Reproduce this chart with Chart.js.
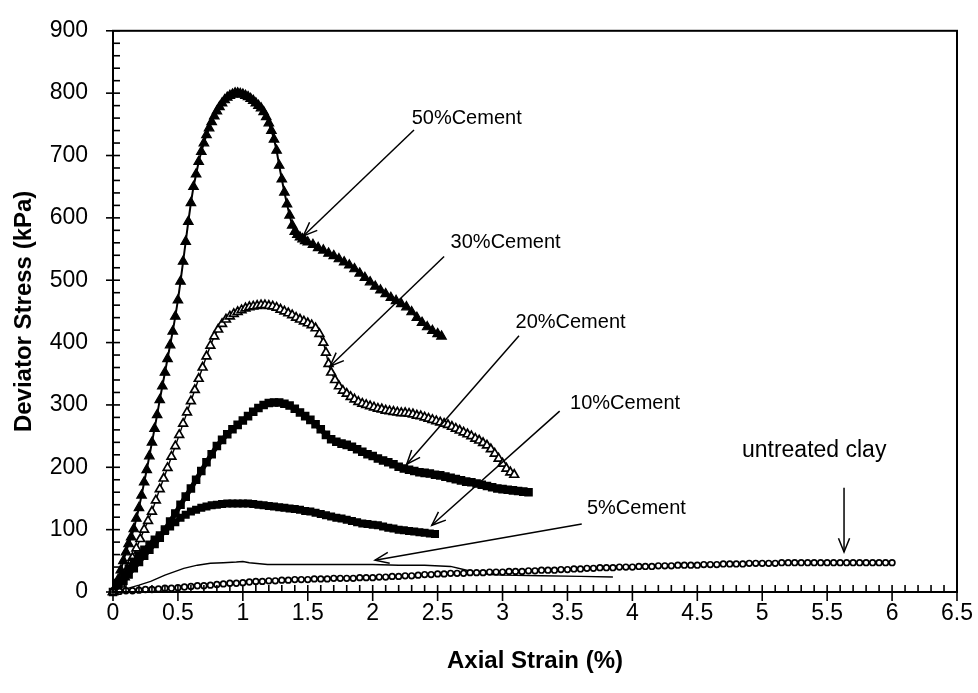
<!DOCTYPE html>
<html><head><meta charset="utf-8">
<script src="https://cdn.jsdelivr.net/npm/chart.js@4/dist/chart.umd.min.js"></script>
<style>html,body{margin:0;padding:0;background:#fff}</style>
</head><body>
<canvas id="c" width="978" height="693"></canvas>
<script>
// ---- DATA: [axial strain (%), deviator stress (kPa)] ----
const cement50 = [[0,0],[0.02,8],[0.04,20],[0.06,35],[0.08,50],[0.10,64],[0.12,77],[0.14,88],[0.16,101],[0.18,118],[0.20,135],[0.22,155],[0.24,176],[0.26,196],[0.28,218],[0.30,240],[0.32,262],[0.34,284],[0.36,308],[0.38,330],[0.40,352],[0.42,374],[0.44,396],[0.46,418],[0.48,442],[0.50,468],[0.52,498],[0.54,530],[0.56,562],[0.58,594],[0.60,624],[0.62,650],[0.64,670],[0.66,690],[0.68,706],[0.70,720],[0.72,733],[0.74,744],[0.76,754],[0.78,763],[0.80,771],[0.82,778],[0.84,784],[0.86,789],[0.88,793],[0.90,796],[0.92,798],[0.94,800],[0.96,800],[0.98,799],[1.00,798],[1.02,796],[1.04,794],[1.06,791],[1.08,788],[1.10,784],[1.12,780],[1.14,776],[1.16,770],[1.18,762],[1.20,752],[1.22,740],[1.24,726],[1.26,708],[1.28,684],[1.30,662],[1.32,641],[1.34,622],[1.36,604],[1.38,588],[1.40,578],[1.42,573],[1.44,569],[1.46,566],[1.48,563],[1.50,561],[1.54,557],[1.58,552],[1.62,548],[1.66,543],[1.70,539],[1.74,534],[1.78,529],[1.82,524],[1.86,518],[1.90,511],[1.94,504],[1.98,497],[2.02,490],[2.06,484],[2.10,478],[2.14,472],[2.18,467],[2.22,462],[2.26,457],[2.30,449],[2.34,440],[2.38,432],[2.42,425],[2.46,419],[2.50,414],[2.53,410]];

const cement30 = [[0,0],[0.03,4],[0.06,12],[0.09,24],[0.12,40],[0.15,55],[0.18,70],[0.21,85],[0.24,100],[0.27,114],[0.30,129],[0.33,147],[0.36,165],[0.39,182],[0.42,199],[0.45,217],[0.48,234],[0.51,252],[0.54,270],[0.57,288],[0.60,306],[0.63,324],[0.66,342],[0.69,360],[0.72,378],[0.75,395],[0.78,410],[0.81,421],[0.84,430],[0.87,437],[0.90,442],[0.93,446],[0.96,449],[0.99,452],[1.02,455],[1.05,457],[1.08,458],[1.11,459],[1.14,460],[1.17,460],[1.20,459],[1.23,458],[1.26,456],[1.29,453],[1.32,450],[1.35,447],[1.38,444],[1.41,440],[1.44,437],[1.47,434],[1.50,431],[1.53,428],[1.56,423],[1.59,414],[1.62,400],[1.64,384],[1.66,366],[1.68,352],[1.71,340],[1.74,330],[1.77,323],[1.80,318],[1.83,313],[1.86,309],[1.89,305],[1.92,302],[1.95,300],[1.98,298],[2.01,296],[2.04,294],[2.07,293],[2.10,291],[2.13,290],[2.16,289],[2.19,288],[2.22,287],[2.25,287],[2.28,286],[2.31,285],[2.34,283],[2.37,282],[2.40,280],[2.43,278],[2.46,276],[2.49,274],[2.52,272],[2.55,270],[2.58,268],[2.61,265],[2.64,262],[2.67,259],[2.70,256],[2.73,253],[2.76,250],[2.79,246],[2.82,243],[2.85,239],[2.88,235],[2.91,229],[2.94,222],[2.97,214],[3.00,206],[3.03,198],[3.06,192],[3.09,188]];

const cement20 = [[0,0],[0.04,8],[0.08,18],[0.12,28],[0.16,38],[0.20,48],[0.24,58],[0.28,68],[0.32,77],[0.36,87],[0.40,100],[0.44,113],[0.48,126],[0.52,140],[0.56,153],[0.60,166],[0.64,180],[0.68,194],[0.72,208],[0.76,221],[0.80,234],[0.84,244],[0.88,253],[0.92,261],[0.96,268],[1.00,275],[1.04,282],[1.08,289],[1.12,295],[1.16,300],[1.20,303],[1.24,304],[1.28,304],[1.32,302],[1.36,299],[1.40,294],[1.44,288],[1.48,282],[1.52,276],[1.56,269],[1.60,261],[1.64,252],[1.68,245],[1.72,241],[1.76,238],[1.80,236],[1.84,233],[1.88,229],[1.92,225],[1.96,221],[2.00,218],[2.04,214],[2.08,211],[2.12,208],[2.16,205],[2.20,201],[2.24,198],[2.28,196],[2.32,194],[2.36,192],[2.40,191],[2.44,190],[2.48,188],[2.52,187],[2.56,185],[2.60,183],[2.64,181],[2.68,179],[2.72,177],[2.76,176],[2.80,174],[2.84,172],[2.88,170],[2.92,168],[2.96,166],[3.00,165],[3.04,164],[3.08,163],[3.12,162],[3.16,161],[3.20,160]];

const cement10 = [[0,0],[0.04,12],[0.08,25],[0.12,38],[0.16,49],[0.20,59],[0.24,68],[0.28,76],[0.32,84],[0.36,91],[0.40,98],[0.44,105],[0.48,112],[0.52,119],[0.56,124],[0.60,129],[0.64,132],[0.68,135],[0.72,137],[0.76,139],[0.80,140],[0.84,141],[0.88,142],[0.92,142],[0.96,142],[1.00,142],[1.04,142],[1.08,141],[1.12,140],[1.16,139],[1.20,138],[1.24,137],[1.28,136],[1.32,135],[1.36,134],[1.40,133],[1.44,132],[1.48,130],[1.52,129],[1.56,127],[1.60,125],[1.64,123],[1.68,121],[1.72,119],[1.76,118],[1.80,116],[1.84,114],[1.88,112],[1.92,110],[1.96,109],[2.00,108],[2.04,107],[2.08,105],[2.12,103],[2.16,102],[2.20,100],[2.24,99],[2.28,98],[2.32,97],[2.36,96],[2.40,95],[2.44,94],[2.48,93]];

const cement5 = [[0,0],[0.1,5],[0.2,11],[0.29,17],[0.4,27],[0.545,38],[0.65,43],[0.75,46],[0.85,47],[0.95,48],[1.0,49],[1.05,47],[1.19,44],[1.4,44],[1.6,44],[1.8,44],[2.0,44],[2.2,43],[2.4,43],[2.6,41],[2.7,36],[2.8,31],[2.9,28],[3.0,27],[3.3,26],[3.6,25],[3.85,24]];

const untreatedClay = [[0,0],[0.05,1],[0.1,2],[0.15,2],[0.2,3],[0.25,4],[0.3,4],[0.35,5],[0.4,6],[0.45,6],[0.5,7],[0.55,8],[0.6,9],[0.65,10],[0.7,10],[0.75,11],[0.8,12],[0.85,13],[0.9,14],[0.95,14],[1.0,15],[1.05,16],[1.1,17],[1.15,17],[1.2,18],[1.25,18],[1.3,19],[1.35,19],[1.4,20],[1.45,20],[1.5,20],[1.55,21],[1.6,21],[1.65,21],[1.7,22],[1.75,22],[1.8,22],[1.85,22],[1.9,23],[1.95,23],[2.0,23],[2.05,24],[2.1,24],[2.15,25],[2.2,25],[2.25,26],[2.3,26],[2.35,27],[2.4,28],[2.45,28],[2.5,29],[2.55,29],[2.6,30],[2.65,30],[2.7,30],[2.75,31],[2.8,31],[2.85,31],[2.9,32],[2.95,32],[3.0,32],[3.05,33],[3.1,33],[3.15,33],[3.2,34],[3.25,34],[3.3,35],[3.35,35],[3.4,35],[3.45,36],[3.5,36],[3.55,37],[3.6,37],[3.65,38],[3.7,38],[3.75,39],[3.8,39],[3.85,39],[3.9,40],[3.95,40],[4.0,40],[4.05,41],[4.1,41],[4.15,41],[4.2,42],[4.25,42],[4.3,42],[4.35,43],[4.4,43],[4.45,43],[4.5,43],[4.55,44],[4.6,44],[4.65,44],[4.7,45],[4.75,45],[4.8,45],[4.85,45],[4.9,46],[4.95,46],[5.0,46],[5.05,46],[5.1,46],[5.15,47],[5.2,47],[5.25,47],[5.3,47],[5.35,47],[5.4,47],[5.45,47],[5.5,47],[5.55,47],[5.6,47],[5.65,47],[5.7,47],[5.75,47],[5.8,47],[5.85,47],[5.9,47],[5.95,47],[6.0,47]];

const xTickValues = [0,0.5,1,1.5,2,2.5,3,3.5,4,4.5,5,5.5,6,6.5];
const yTickValues = [0,100,200,300,400,500,600,700,800,900];
const xTickLabels = ['0','0.5','1','1.5','2','2.5','3','3.5','4','4.5','5','5.5','6','6.5'];
const yTickLabels = ['0','100','200','300','400','500','600','700','800','900'];

// annotation labels (text and arrow, in data units)
const annotationTexts = ['50%Cement','30%Cement','20%Cement','10%Cement','5%Cement','untreated clay'];
const annotationAt = [
  {tx:2.30, ty:760, x1:2.318, y1:741, x2:1.466, y2:571, size:20, align:'left'},
  {tx:2.60, ty:561, x1:2.55, y1:538, x2:1.671, y2:362, size:20, align:'left'},
  {tx:3.10, ty:432, x1:3.127, y1:411, x2:2.262, y2:205, size:20, align:'left'},
  {tx:3.52, ty:303, x1:3.44, y1:290, x2:2.455, y2:107, size:20, align:'left'},
  {tx:3.65, ty:134, x1:3.61, y1:109, x2:2.018, y2:51, size:20, align:'left'},
  {tx:5.40, ty:226, x1:5.63, y1:167, x2:5.63, y2:64, size:23, align:'center'}
];

const FONT = "'Liberation Sans', Arial, sans-serif";
const toXY = a => a.map(p => ({x:p[0], y:p[1]}));

function drawArrow(ctx, x1, y1, x2, y2) {
  ctx.beginPath(); ctx.moveTo(x1, y1); ctx.lineTo(x2, y2); ctx.stroke();
  const ang = Math.atan2(y2 - y1, x2 - x1), L = 15, h = 0.38;
  ctx.beginPath();
  ctx.moveTo(x2 - L*Math.cos(ang - h), y2 - L*Math.sin(ang - h));
  ctx.lineTo(x2, y2);
  ctx.lineTo(x2 - L*Math.cos(ang + h), y2 - L*Math.sin(ang + h));
  ctx.stroke();
}

const framePlugin = {
  id: 'frame',
  afterDraw(chart) {
    const {ctx, chartArea: a, scales: {x, y}} = chart;
    ctx.save();
    ctx.strokeStyle = '#000';
    ctx.lineWidth = 2;
    ctx.strokeRect(a.left, a.top, a.right - a.left, a.bottom - a.top);
    ctx.lineWidth = 1.6;
    for (let i = 0; i <= 45; i++) {
      const py = y.getPixelForValue(i * 20);
      const major = i % 5 === 0;
      ctx.beginPath();
      ctx.moveTo(a.left - (major ? 7 : 0), py);
      ctx.lineTo(a.left + 7, py);
      ctx.stroke();
    }
    for (let i = 0; i <= 65; i++) {
      const px = x.getPixelForValue(i / 10);
      const major = i % 5 === 0;
      ctx.beginPath();
      ctx.moveTo(px, a.bottom - 7);
      ctx.lineTo(px, a.bottom + (major ? 9 : 0));
      ctx.stroke();
    }
    ctx.lineWidth = 1.5;
    ctx.fillStyle = '#000';
    ctx.textBaseline = 'middle';
    annotationAt.forEach((an, k) => {
      ctx.font = an.size + 'px ' + FONT;
      ctx.textAlign = an.align;
      ctx.fillText(annotationTexts[k], x.getPixelForValue(an.tx), y.getPixelForValue(an.ty));
      drawArrow(ctx, x.getPixelForValue(an.x1), y.getPixelForValue(an.y1), x.getPixelForValue(an.x2), y.getPixelForValue(an.y2));
    });
    ctx.restore();
  }
};

new Chart(document.getElementById('c'), {
  type: 'scatter',
  data: { datasets: [
    { label:'untreated clay', data: toXY(untreatedClay), showLine:true, borderColor:'#000', borderWidth:1.6,
      pointStyle:'circle', pointRadius:2.8, pointBackgroundColor:'#fff', pointBorderColor:'#000', pointBorderWidth:1.7, clip:false },
    { label:'5%Cement', data: toXY(cement5), showLine:true, borderColor:'#000', borderWidth:1.4, pointRadius:0, clip:false },
    { label:'10%Cement', data: toXY(cement10), showLine:true, borderColor:'#000', borderWidth:4.5,
      pointStyle:'rect', pointRadius:4.6, pointBackgroundColor:'#000', pointBorderColor:'#000', pointBorderWidth:1.5, clip:false },
    { label:'20%Cement', data: toXY(cement20), showLine:true, borderColor:'#000', borderWidth:5,
      pointStyle:'rect', pointRadius:5, pointBackgroundColor:'#000', pointBorderColor:'#000', pointBorderWidth:1.5, clip:false },
    { label:'30%Cement', data: toXY(cement30), showLine:true, borderColor:'#000', borderWidth:1.4,
      pointStyle:'triangle', pointRadius:5, pointBackgroundColor:'#fff', pointBorderColor:'#000', pointBorderWidth:1.7, clip:false },
    { label:'50%Cement', data: toXY(cement50), showLine:true, borderColor:'#000', borderWidth:2,
      pointStyle:'triangle', pointRadius:5.5, pointBackgroundColor:'#000', pointBorderColor:'#000', pointBorderWidth:1.2, clip:false }
  ]},
  options: {
    responsive:false, animation:false, devicePixelRatio:1,
    layout: { padding: { top:27, right:21, left:0, bottom:0 } },
    plugins: { legend:{display:false}, tooltip:{enabled:false} },
    scales: {
      x: { type:'linear', min:0, max:6.5,
        afterBuildTicks: s => { s.ticks = xTickValues.map(v => ({value:v})); },
        afterFit: s => { s.height = 101; },
        grid:{display:false}, border:{display:false},
        ticks:{ padding:0, color:'#000', font:{family:FONT, size:23}, maxRotation:0, autoSkip:false,
          callback:(v) => xTickLabels[xTickValues.indexOf(v)] },
        title:{ display:true, text:'Axial Strain (%)', color:'#000', font:{family:FONT, size:24, weight:'bold'}, padding:{top:0, bottom:17} } },
      y: { type:'linear', min:0, max:900,
        afterBuildTicks: s => { s.ticks = yTickValues.map(v => ({value:v})); },
        afterFit: s => { s.width = 113; },
        grid:{display:false}, border:{display:false},
        ticks:{ padding:17, color:'#000', font:{family:FONT, size:23}, autoSkip:false,
          callback:(v) => yTickLabels[yTickValues.indexOf(v)] },
        title:{ display:true, text:'Deviator Stress (kPa)', color:'#000', font:{family:FONT, size:24, weight:'bold'}, padding:{top:10, bottom:0} } }
    }
  },
  plugins: [framePlugin]
});
</script>
</body></html>
